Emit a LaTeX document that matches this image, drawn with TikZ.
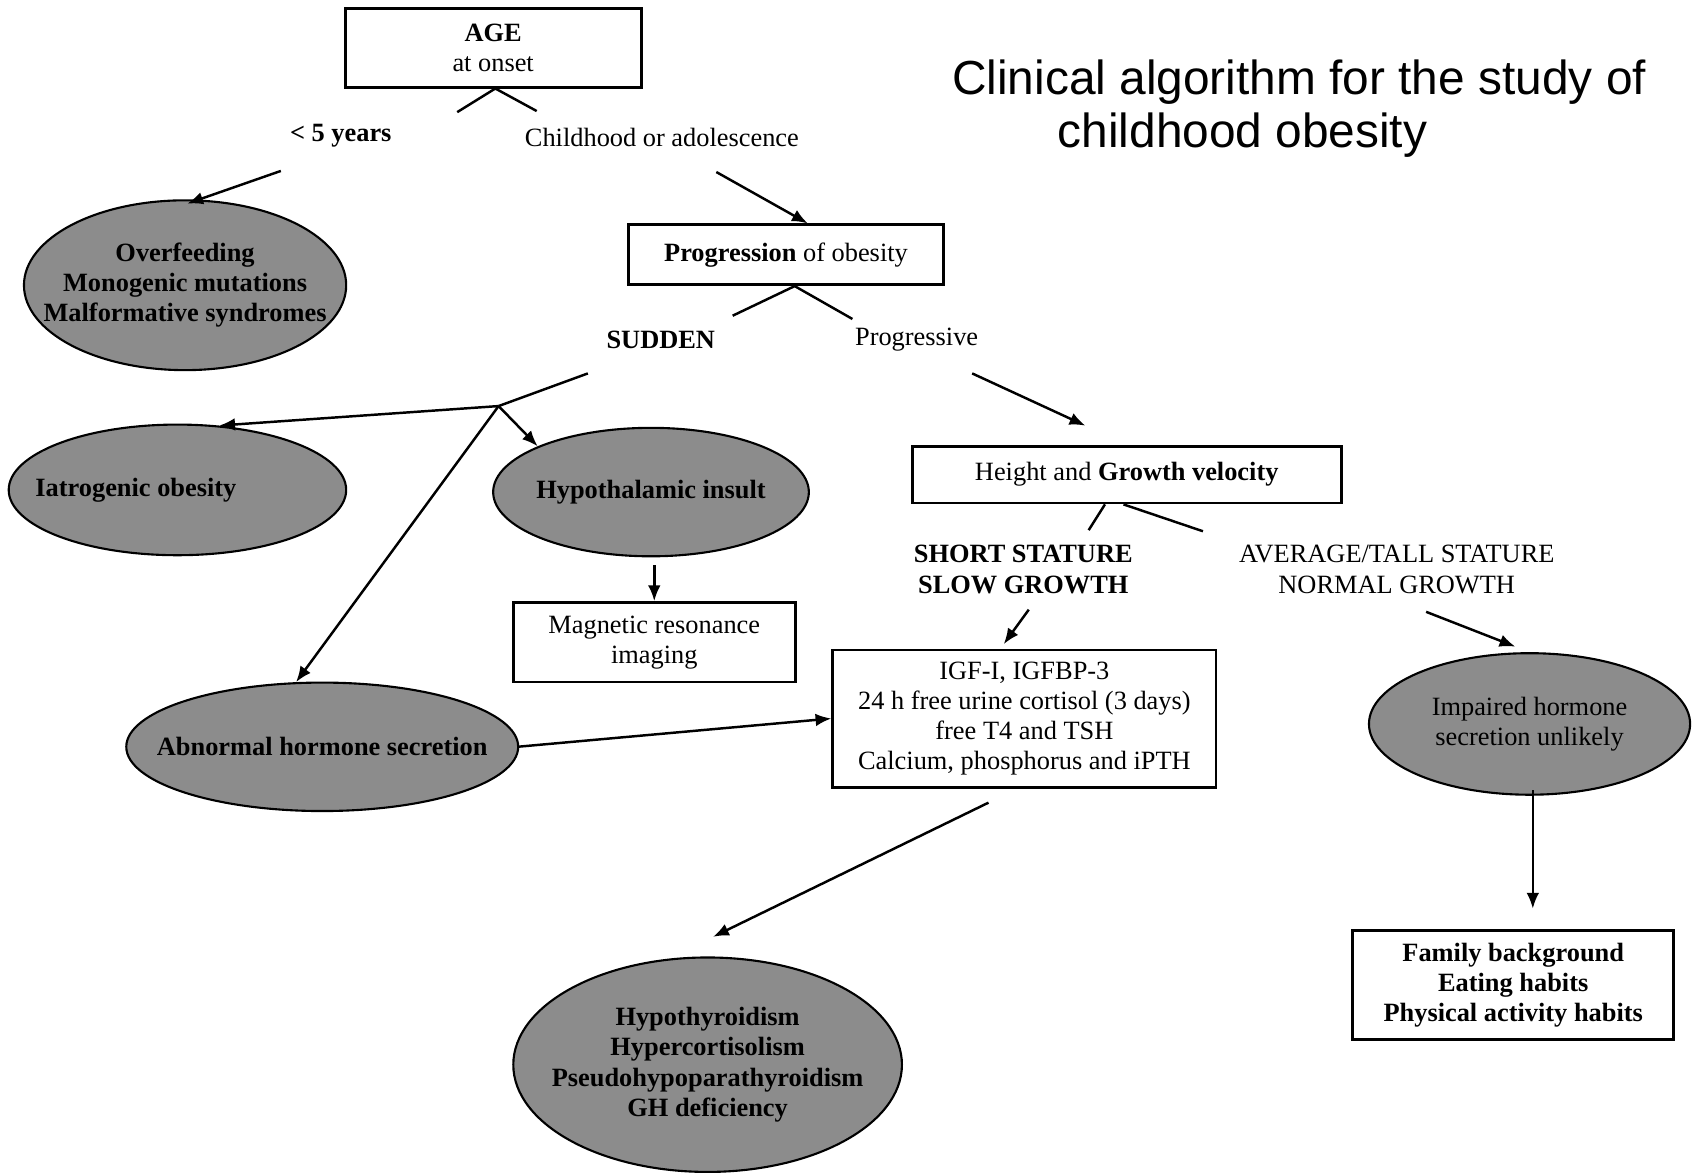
\documentclass[tikz,border=0pt]{standalone}
\usepackage{fontspec}
\setmainfont{Liberation Serif}
\newfontfamily\titlefont{Liberation Sans}
\usetikzlibrary{shapes.geometric,arrows.meta,calc}
\definecolor{ovalgray}{RGB}{140,140,140}
\newcommand\pxu{0.010887cm}
\tikzset{
  boxnode/.style={draw, line width=0.8pt, rectangle, inner sep=0pt},
  oval/.style={draw, line width=0.6pt, ellipse, fill=ovalgray, inner xsep=-60pt, inner ysep=0pt, font=\fontsize{7.5}{8.6}\selectfont\bfseries},
  lbl/.style={inner sep=1pt},
  arr/.style={line width=0.7pt, -{Latex[length=4.5pt,width=3.6pt]}},
  ln/.style={line width=0.7pt}
}
\begin{document}
\begin{tikzpicture}[x=0.010887cm,y=-0.010887cm,
  every node/.style={font=\fontsize{7.5}{8.6}\selectfont, align=center}]
\useasboundingbox (0,0) rectangle (1568,1077);

% title
\node[anchor=west, align=left, inner sep=0pt, font=\titlefont\fontsize{13.6}{15.2}\selectfont] (title) at (874,100)
  {Clinical algorithm for the study of\\\hspace*{30pt}childhood obesity};

% nodes
\node[boxnode, minimum width=272*\pxu, minimum height=72*\pxu] (age) at (453,44) {\textbf{AGE}\\at onset};
\node[lbl] (lt5) at (313,125) {\textbf{< 5 years}};
\node[lbl] (child) at (608,126) {Childhood or adolescence};
\node[oval, minimum width=296*\pxu, minimum height=156*\pxu] (over) at (170,262) {Overfeeding\\Monogenic mutations\\Malformative syndromes};
\node[boxnode, minimum width=289*\pxu, minimum height=55*\pxu] (prog) at (722,234) {\textbf{Progression} of obesity};
\node[lbl] (sudden) at (607,312) {\textbf{SUDDEN}};
\node[lbl] (progr) at (842,312) {Progressive};
\node[oval, minimum width=310*\pxu, minimum height=120*\pxu] (iat) at (163,450) {Iatrogenic obesity\hspace*{0.83cm}};
\node[oval, minimum width=290*\pxu, minimum height=118*\pxu] (hyp) at (598,452) {Hypothalamic insult};
\node[boxnode, minimum width=259*\pxu, minimum height=73*\pxu] (mri) at (601,590) {Magnetic resonance\\imaging};
\node[oval, minimum width=360*\pxu, minimum height=118*\pxu] (abn) at (296,686) {Abnormal hormone secretion};
\node[boxnode, minimum width=394*\pxu, minimum height=52*\pxu] (hgv) at (1035,436) {Height and \textbf{Growth velocity}};
\node[lbl, font=\fontsize{7.5}{8.6}\selectfont\bfseries] (short) at (940,523) {SHORT STATURE\\SLOW GROWTH};
\node[lbl] (avg) at (1283,523) {AVERAGE/TALL STATURE\\NORMAL GROWTH};
\node[boxnode, minimum width=352*\pxu, minimum height=126*\pxu] (igf) at (941,660) {IGF-I, IGFBP-3\\24 h free urine cortisol (3 days)\\free T4 and TSH\\Calcium, phosphorus and iPTH};
\node[oval, minimum width=295*\pxu, minimum height=130*\pxu, font=\fontsize{7.5}{8.6}\selectfont] (imp) at (1405,665) {Impaired hormone\\secretion unlikely};
\node[boxnode, minimum width=295*\pxu, minimum height=100*\pxu, font=\fontsize{7.5}{8.6}\selectfont\bfseries] (fam) at (1390,905) {Family background\\Eating habits\\Physical activity habits};
\node[oval, minimum width=357*\pxu, minimum height=197*\pxu] (big) at (650,978) {Hypothyroidism\\Hypercortisolism\\Pseudohypoparathyroidism\\GH deficiency};

% connectors
\coordinate (ageL) at (420,103);
\coordinate (ageR) at (493,102);
\draw[ln] (ageL) -- ($(age.south)+(2,0)$) -- (ageR);

\coordinate (a1) at (258,157);
\draw[arr] (a1) -- ($(over.north)+(2,4)$);
\coordinate (a2) at (658,158);
\draw[arr] (a2) -- ($(prog.north)+(20,0)$);

\coordinate (pL) at (673,290);
\coordinate (pR) at (783,293);
\draw[ln] (pL) -- ($(prog.south)+(8,0)$) -- (pR);

\coordinate (s1) at (540,343);
\coordinate (jn) at (458,373);
\draw[ln] (s1) -- (jn);
\draw[arr] (jn) -- (iat.57);
\draw[arr] (jn) -- (hyp.158);
\draw[arr] (jn) -- (abn.112);

\draw[arr] ($(mri.north)+(0,-33)$) -- (mri.north);
\draw[arr] ($(abn.east)+(-2,0)$) -- (igf.west);

\coordinate (p2) at (893,343);
\coordinate (p2e) at (997,391);
\draw[arr] (p2) -- (p2e);

\coordinate (hL) at (1000,487);
\coordinate (hR) at (1105,488);
\draw[ln] ($(hgv.south)+(-20,0)$) -- (hL);
\draw[ln] ($(hgv.south)+(-3,0)$) -- (hR);

\coordinate (sh1) at (945,560);
\draw[arr] (sh1) -- ($(igf.north)+(-19,-4)$);
\coordinate (av1) at (1310,562);
\coordinate (av2) at (1392,594);
\draw[arr] (av1) -- (av2);

\draw[arr] ($(imp.south)+(3,-5)$) -- ($(imp.south |- fam.north)+(3,-19)$);
\draw[arr] ($(igf.south)+(-33,13)$) -- ($(big.north)+(5,-18)$);
\end{tikzpicture}
\end{document}
